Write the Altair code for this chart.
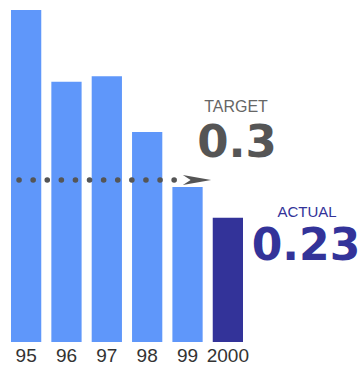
import altair as alt
import pandas as pd

years = ["95", "96", "97", "98", "99", "2000"]
values = [0.615, 0.482, 0.492, 0.389, 0.287, 0.23]
kinds = ["past", "past", "past", "past", "past", "actual"]
target = 0.3
actual = 0.23

df = pd.DataFrame({"year": years, "value": values, "kind": kinds})

xscale = alt.Scale(domain=years, range=[11, 243], paddingInner=0.25, paddingOuter=0)
yscale = alt.Scale(domain=[0, 0.6333], nice=False, zero=True)

bars = alt.Chart(df).mark_bar().encode(
    x=alt.X("year:N", scale=xscale, sort=years,
            axis=alt.Axis(title=None, domain=False, ticks=False, grid=False, labelAngle=0,
                          labelFont="Liberation Sans", labelFontSize=19,
                          labelColor="#333333", labelPadding=4)),
    y=alt.Y("value:Q", scale=yscale, axis=None),
    color=alt.Color("kind:N", scale=alt.Scale(domain=["past", "actual"],
                                              range=["#5F97FA", "#333399"]), legend=None),
)

tdf = pd.DataFrame({"v": [target]})
rule = alt.Chart(tdf).mark_rule(color="#555555", strokeWidth=5.5, strokeDash=[0.1, 14],
                                strokeCap="round").encode(
    y=alt.Y("v:Q", scale=yscale), x=alt.value(19), x2=alt.value(177))

arrow = alt.Chart(tdf).mark_point(
    shape="M1,0 L-1,-0.36 L-0.45,0 L-1,0.36 Z", filled=True, color="#555555",
    opacity=1, size=800).encode(y=alt.Y("v:Q", scale=yscale), x=alt.value(197))

tgt_lbl = alt.Chart(pd.DataFrame({"t": ["TARGET"]})).mark_text(
    font="Liberation Sans", fontSize=16, color="#666666", align="center",
    baseline="alphabetic").encode(text="t:N", x=alt.value(236), y=alt.value(112))
tgt_val = alt.Chart(pd.DataFrame({"t": [str(target)]})).mark_text(
    font="DejaVu Sans", fontWeight="bold", fontSize=45, color="#555555", align="center",
    baseline="alphabetic").encode(text="t:N", x=alt.value(237), y=alt.value(157))

act_lbl = alt.Chart(pd.DataFrame({"t": ["ACTUAL"]})).mark_text(
    font="Liberation Sans", fontSize=15, color="#333399", align="center",
    baseline="alphabetic").encode(text="t:N", x=alt.value(307), y=alt.value(217))
act_val = alt.Chart(pd.DataFrame({"t": [str(actual)]})).mark_text(
    font="DejaVu Sans", fontWeight="bold", fontSize=44, color="#333399", align="center",
    baseline="alphabetic").encode(text="t:N", x=alt.value(306), y=alt.value(260))

chart = alt.layer(bars, rule, arrow, tgt_lbl, tgt_val, act_lbl, act_val).properties(
    width=364, height=342,
    padding={"left": 0, "top": 0, "right": 0, "bottom": 25},
    autosize=alt.AutoSizeParams(type="none"),
    background="white",
).configure_view(stroke=None, strokeWidth=0)

chart.save("out.html", embed_options={"renderer": "svg", "actions": False})
